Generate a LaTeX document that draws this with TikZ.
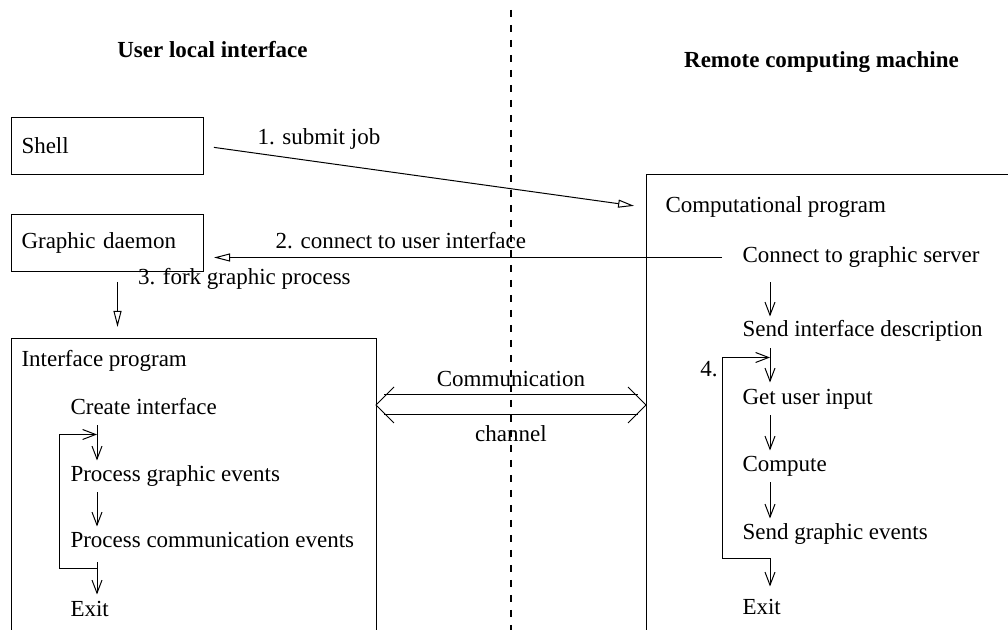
\documentclass[tikz,border=0pt]{standalone}
\usepackage{fontspec}
\setmainfont{Liberation Serif}
\usetikzlibrary{arrows.meta,calc,positioning}

\begin{document}
\begin{tikzpicture}[x=0.5pt, y=-0.5pt, line width=0.5pt,
		>={Triangle[open, length=8pt, width=4pt]},
		font=\fontsize{11.5}{14}\selectfont,
		pbox/.style={draw, anchor=north west, minimum width=96pt, minimum height=28.5pt,
			text width=86pt, inner xsep=5pt, inner ysep=0pt, align=left},
		area/.style={draw, anchor=north west, inner sep=0pt, outer sep=0pt},
		item/.style={anchor=base west, inner sep=0pt, text height=8pt, text depth=2.5pt},
		heading/.style={anchor=base, font=\fontsize{11.5}{14}\selectfont\bfseries},
		lbl/.style={inner sep=1pt},
		flow/.style={-{Straight Barb[length=6.5pt, width=5pt]}, shorten <=2.5pt, shorten >=2.5pt},
		loopline/.style={-{Straight Barb[length=6.5pt, width=5pt]}},
		chan/.style={shorten <=4pt, shorten >=4pt},
		divider/.style={line width=1pt, dash pattern=on 3.5pt off 4pt}]
	\clip (0,0) rectangle (1008,630);

	\draw[divider] (511,10) -- (511,640);

	\node[heading] (local) at (212.5,58) {User local interface};
	\node[heading] (remote) at (821.5,68) {Remote computing machine};

	\node[pbox] (shell) at (11,117) {Shell};
	\node[pbox, below=19.5pt of shell.south west, anchor=north west] (daemon) {Graphic daemon};
	\node[area, minimum width=182.5pt, minimum height=200pt,
		below=33.5pt of daemon.south west, anchor=north west] (ifc) {};
	\node[area, minimum width=250pt, minimum height=250pt] (comp) at (646,175) {};

	\node[item] (ip) at (21,367) {Interface program};
	\node[item, below=24pt of ip.base west, xshift=24.5pt, anchor=base west] (ci) {Create interface};
	\node[item, below=33.5pt of ci.base west, anchor=base west] (pg) {Process graphic events};
	\node[item, below=33pt of pg.base west, anchor=base west] (pc) {Process communication events};
	\node[item, below=34.5pt of pc.base west, anchor=base west] (lexit) {Exit};

	\node[item] (cp) at (665,213) {Computational program};
	\node[item] (con) at (742,263) {Connect to graphic server};
	\node[item, below=37pt of con.base west, anchor=base west] (sid) {Send interface description};
	\node[item, below=34pt of sid.base west, anchor=base west] (gui) {Get user input};
	\node[item, below=33.5pt of gui.base west, anchor=base west] (cmp) {Compute};
	\node[item, below=34pt of cmp.base west, anchor=base west] (sge) {Send graphic events};
	\node[item, below=37.5pt of sge.base west, anchor=base west] (rexit) {Exit};

	\draw[->, shorten <=5pt, shorten >=6pt] (shell.east) -- (cp.west -| comp.west)
		node[lbl, pos=0.26, above=5pt] {1. submit job};
	\draw[->, shorten <=10pt, shorten >=5pt] (con.west) -- (con.west -| daemon.east)
		node[lbl, pos=0.634, above=3pt] {2. connect to user interface};
	\draw[->, shorten <=5pt, shorten >=6pt] ([xshift=5pt]daemon.south) -- ([xshift=5pt]daemon.south |- ifc.north)
		node[lbl, pos=0.1, right=9pt] {3. fork graphic process};

	\coordinate (lx) at (97,0);
	\coordinate (rx) at (770,0);
	\path[flow]
		(ci.south -| lx) edge (pg.north -| lx)
		(pg.south -| lx) edge (pc.north -| lx)
		(pc.south -| lx) edge[shorten <=4.5pt, shorten >=3pt] (lexit.north -| lx)
		(con.south -| rx) edge[shorten <=7pt, shorten >=2pt] (sid.north -| rx)
		(sid.south -| rx) edge[shorten <=3pt, shorten >=3pt] (gui.north -| rx)
		(gui.south -| rx) edge (cmp.north -| rx)
		(cmp.south -| rx) edge (sge.north -| rx)
		(sge.south -| rx) edge[shorten <=6.5pt, shorten >=6pt] (rexit.north -| rx);

	\coordinate (lback) at ($(pc.south -| lx)+(0,15)$);
	\coordinate (lagain) at ($(ci.south -| lx)+(0,14)$);
	\draw[loopline] (lback) -- ++(-38,0) |- (lagain);
	\coordinate (rback) at ($(sge.south -| rx)+(0,13)$);
	\coordinate (ragain) at ($(sid.south -| rx)+(0,15)$);
	\draw[loopline] (rback) -- ++(-48,0) |- node[lbl, pos=0.47, left=1pt] {4.} (ragain);

	\coordinate (chy) at (0,405);
	\coordinate (chl) at (ifc.east |- chy);
	\coordinate (chr) at (comp.west |- chy);
	\draw[chan] ([yshift=5pt]chl) -- ([yshift=5pt]chr);
	\draw[chan] ([yshift=-5pt]chl) -- ([yshift=-5pt]chr);
	\draw (chl) ++(18,-18) -- (chl) -- ++(18,18);
	\draw (chr) ++(-18,-18) -- (chr) -- ++(-18,18);
	\node[anchor=base, inner sep=0pt] (commtop) at ($(chl)!0.5!(chr)+(0,-18)$) {Communication};
	\node[anchor=base, inner sep=0pt] (commbot) at ($(chl)!0.5!(chr)+(0,37)$) {channel};
\end{tikzpicture}
\end{document}
